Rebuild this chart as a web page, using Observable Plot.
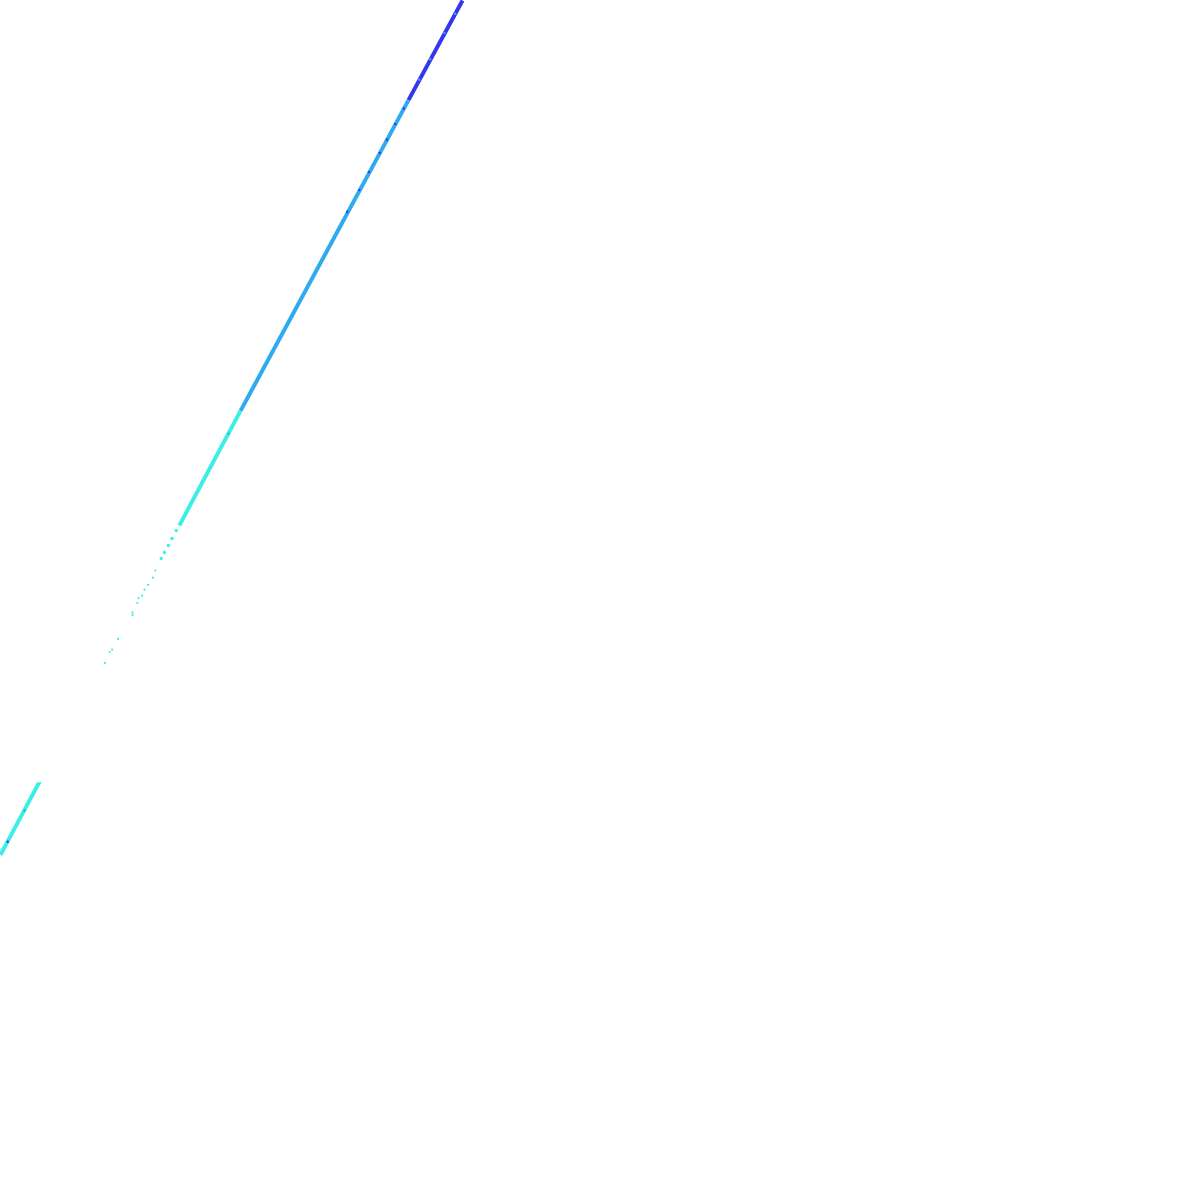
<!DOCTYPE html>
<html>
<head>
<meta charset="utf-8">
<script src="https://cdn.jsdelivr.net/npm/d3@7"></script>
<script src="https://cdn.jsdelivr.net/npm/@observablehq/plot@0.6"></script>
<style>
  html, body { margin: 0; padding: 0; background: #ffffff; }
  #chart svg { display: block; }
</style>
</head>
<body>
<div id="chart"></div>
<script>
// Dense stretches of the trace (abstract units, x 0–100, y 0–100)
const segId    = ["a", "a", "b", "b", "c", "c", "d", "d"];
const segX     = [38.5, 34.0, 34.0, 20.0, 20.0, 14.9, 3.2, 0.0];
const segY     = [100.0, 91.7, 91.7, 65.8, 65.8, 56.25, 34.8, 28.8];
const segLevel = ["high", "high", "mid", "mid", "low", "low", "low", "low"];

// Fragmented end of the cyan stretch
const fragX     = [14.65, 14.29, 13.98, 13.66, 13.39];
const fragY     = [55.83, 55.17, 54.58, 54.0, 53.5];
const fragLevel = ["low", "low", "low", "low", "low"];

// Scattered isolated readings between the dense stretches
const dotX     = [12.9, 12.7, 12.3, 12.0, 11.8, 11.5, 11.4, 11.0, 11.0, 9.8, 9.3, 9.1, 8.7, 3.3, 2.9];
const dotY     = [52.5, 51.9, 51.3, 50.9, 50.4, 50.2, 49.8, 49.0, 48.8, 46.8, 45.9, 45.7, 44.8, 34.8, 34.3];
const dotLevel = ["low", "low", "low", "low", "low", "low", "low", "low", "low", "low", "low", "low", "low", "low", "low"];

// Mixed specks inside the dense stretches
const speckX     = [37.9, 37.0, 35.8, 34.9, 33.6, 32.9, 32.2, 31.6, 30.7, 29.9, 28.9, 21.4, 20.6, 19.0, 2.0, 0.6];
const speckY     = [98.9, 97.3, 95.1, 93.4, 91.0, 89.7, 88.4, 87.3, 85.7, 84.2, 82.4, 68.4, 66.9, 63.9, 32.5, 29.9];
const speckLevel = ["mid", "mid", "mid", "mid", "high", "high", "high", "high", "high", "high", "high", "mid", "mid", "mid", "mid", "high"];

const levels = ["low", "mid", "high"];
const levelColors = ["#3cefe6", "#30aaef", "#3535ee"];

const segs = segId.map((id, i) => ({id, x: segX[i], y: segY[i], level: segLevel[i]}));
const frags = fragX.map((x, i) => ({x, y: fragY[i], level: fragLevel[i]}));
const dots = dotX.map((x, i) => ({x, y: dotY[i], level: dotLevel[i]}));
const specks = speckX.map((x, i) => ({x, y: speckY[i], level: speckLevel[i]}));

const chart = Plot.plot({
  width: 1200,
  height: 1200,
  margin: 0,
  style: {background: "#ffffff"},
  x: {domain: [0, 100], axis: null},
  y: {domain: [0, 100], axis: null},
  color: {type: "ordinal", domain: levels, range: levelColors},
  marks: [
    Plot.line(segs, {x: "x", y: "y", z: "id", stroke: "level", strokeWidth: 4, strokeLinecap: "butt"}),
    Plot.dot(frags, {x: "x", y: "y", fill: "level", r: 1.7, stroke: null}),
    Plot.dot(dots, {x: "x", y: "y", fill: "level", r: 1.1, stroke: null}),
    Plot.dot(specks, {x: "x", y: "y", fill: "level", r: 1.2, stroke: null})
  ]
});
document.getElementById("chart").appendChild(chart);
</script>
</body>
</html>
